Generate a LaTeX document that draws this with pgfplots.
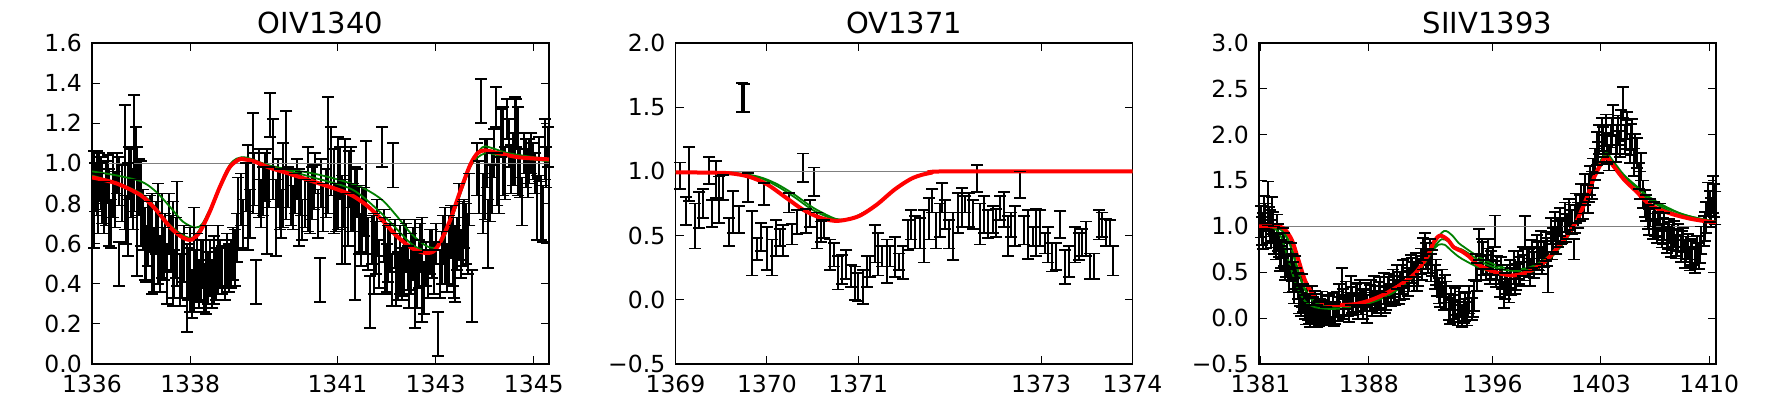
\documentclass[border=0pt]{standalone}
\usepackage{fontspec}
\setmainfont{DejaVu Sans}
\usepackage{pgfplots}
\pgfplotsset{compat=1.18}
\usepackage{pgfplotstable}

\pgfplotstableread{
x y e
1336.04 0.82 0.24
1336.10 0.90 0.16
1336.15 0.93 0.12
1336.21 0.85 0.15
1336.29 0.85 0.16
1336.34 0.78 0.19
1336.42 0.89 0.16
1336.54 0.50 0.11
1336.56 0.91 0.12
1336.67 0.98 0.31
1336.73 0.77 0.23
1336.80 0.90 0.17
1336.86 1.05 0.29
1336.89 1.05 0.13
1336.92 0.76 0.32
1336.99 0.80 0.21
1337.07 0.60 0.18
1337.15 0.65 0.16
1337.22 0.60 0.25
1337.34 0.65 0.25
1337.42 0.64 0.21
1337.49 0.61 0.14
1337.57 0.70 0.15
1337.64 0.55 0.26
1337.74 0.65 0.26
1337.84 0.49 0.16
1337.93 0.38 0.22
1337.99 0.47 0.21
1338.07 0.52 0.26
1338.14 0.48 0.17
1338.22 0.47 0.15
1338.32 0.47 0.22
1338.41 0.48 0.14
1338.49 0.47 0.17
1338.56 0.52 0.17
1338.65 0.47 0.12
1338.75 0.52 0.13
1338.83 0.50 0.12
1338.91 0.53 0.14
1338.98 0.75 0.18
1339.08 0.70 0.12
1339.18 0.83 0.26
1339.27 1.00 0.25
1339.34 0.41 0.11
1339.40 0.90 0.17
1339.48 0.86 0.12
1339.56 0.81 0.26
1339.63 1.24 0.11
1339.69 1.02 0.20
1339.75 0.73 0.19
1339.83 0.82 0.15
1339.90 0.89 0.21
1339.96 0.99 0.27
1340.06 0.83 0.14
1340.13 0.85 0.10
1340.21 0.78 0.19
1340.28 0.72 0.10
1340.40 0.87 0.21
1340.48 0.85 0.13
1340.55 0.95 0.10
1340.64 0.42 0.11
1340.71 0.78 0.12
1340.80 1.04 0.29
1340.87 1.01 0.17
1340.93 0.86 0.21
1341.01 0.90 0.23
1341.09 0.72 0.22
1341.16 0.81 0.31
1341.28 0.87 0.21
1341.36 0.65 0.33
1341.43 0.72 0.17
1341.51 0.72 0.16
1341.59 0.83 0.28
1341.66 0.31 0.13
1341.74 0.55 0.20
1341.81 0.68 0.14
1341.91 1.08 0.10
1341.97 0.54 0.19
1342.04 0.55 0.14
1342.14 0.99 0.11
1342.20 0.47 0.18
1342.27 0.52 0.17
1342.35 0.53 0.19
1342.43 0.48 0.11
1342.50 0.50 0.15
1342.58 0.45 0.27
1342.66 0.50 0.12
1342.73 0.47 0.26
1342.81 0.50 0.11
1342.89 0.56 0.11
1342.92 0.55 0.12
1343.04 0.15 0.11
1343.12 0.53 0.13
1343.19 0.59 0.19
1343.27 0.57 0.17
1343.35 0.59 0.20
1343.40 0.50 0.19
1343.48 0.71 0.19
1343.55 0.65 0.16
1343.61 0.65 0.15
1343.69 0.82 0.13
1343.75 0.34 0.13
1343.84 0.97 0.13
1343.92 1.31 0.11
1344.01 0.92 0.20
1344.07 0.65 0.17
1344.15 0.90 0.15
1344.22 1.28 0.10
1344.30 0.89 0.14
1344.38 1.06 0.22
1344.45 1.22 0.10
1344.53 0.97 0.12
1344.61 1.11 0.22
1344.68 1.06 0.22
1344.76 0.81 0.12
1344.84 1.00 0.12
1344.91 1.01 0.11
1344.99 1.01 0.09
1345.07 0.78 0.16
1345.14 0.78 0.16
1345.22 1.07 0.15
1345.28 1.08 0.10
1336.07 0.88 0.12
1336.13 0.80 0.15
1336.18 0.90 0.13
1336.25 0.78 0.13
1336.32 0.92 0.12
1336.38 0.70 0.12
1336.46 0.82 0.14
1336.50 0.95 0.10
1336.62 0.85 0.14
1336.70 0.72 0.12
1336.76 0.95 0.13
1336.83 0.82 0.15
1336.96 0.88 0.14
1337.03 0.72 0.15
1337.11 0.55 0.14
1337.18 0.70 0.14
1337.26 0.52 0.16
1337.30 0.68 0.13
1337.38 0.50 0.14
1337.46 0.55 0.13
1337.53 0.45 0.15
1337.60 0.60 0.14
1337.68 0.45 0.12
1337.71 0.58 0.15
1337.79 0.42 0.13
1337.88 0.55 0.14
1337.96 0.45 0.13
1338.03 0.35 0.12
1338.10 0.44 0.13
1338.18 0.40 0.12
1338.26 0.50 0.12
1338.28 0.38 0.12
1338.36 0.43 0.13
1338.45 0.40 0.12
1338.53 0.45 0.13
1338.60 0.50 0.12
1338.70 0.45 0.13
1338.79 0.48 0.12
1338.87 0.55 0.13
1338.95 0.63 0.12
1339.03 0.82 0.13
1339.13 0.88 0.12
1339.22 0.75 0.12
1339.30 0.92 0.13
1339.44 0.80 0.12
1339.52 0.93 0.12
1339.60 0.88 0.10
1339.79 0.90 0.12
1339.86 0.75 0.12
1340.00 0.88 0.10
1340.10 0.78 0.11
1340.17 0.92 0.10
1340.25 0.85 0.11
1340.33 0.80 0.12
1340.44 0.78 0.13
1340.52 0.88 0.11
1340.60 0.75 0.12
1340.67 0.90 0.12
1340.76 0.85 0.12
1340.97 0.78 0.12
1341.05 0.95 0.13
1341.12 0.80 0.12
1341.21 0.72 0.13
1341.24 0.92 0.14
1341.32 0.78 0.12
1341.40 0.85 0.12
1341.47 0.62 0.13
1341.55 0.76 0.12
1341.62 0.60 0.13
1341.70 0.62 0.12
1341.78 0.58 0.13
1341.85 0.50 0.12
1341.94 0.64 0.13
1342.00 0.48 0.12
1342.08 0.58 0.12
1342.11 0.42 0.13
1342.17 0.60 0.12
1342.24 0.44 0.12
1342.31 0.45 0.13
1342.39 0.58 0.12
1342.46 0.40 0.12
1342.54 0.55 0.13
1342.62 0.42 0.14
1342.69 0.58 0.12
1342.77 0.38 0.13
1342.85 0.45 0.12
1342.96 0.48 0.13
1343.00 0.60 0.10
1343.08 0.45 0.12
1343.15 0.62 0.12
1343.23 0.48 0.12
1343.31 0.66 0.13
1343.38 0.45 0.12
1343.44 0.60 0.13
1343.52 0.55 0.12
1343.58 0.70 0.12
1343.65 0.60 0.15
1343.88 0.88 0.13
1343.96 0.80 0.15
1344.04 1.00 0.12
1344.11 0.85 0.14
1344.19 1.05 0.12
1344.26 0.92 0.13
1344.34 1.15 0.12
1344.41 0.95 0.13
1344.49 1.10 0.12
1344.57 1.02 0.13
1344.64 1.20 0.12
1344.72 0.95 0.12
1344.80 1.05 0.10
1344.88 0.95 0.12
1344.95 1.05 0.10
1345.03 0.95 0.10
1345.11 1.02 0.11
1345.18 0.75 0.14
1345.25 0.98 0.10
}\dataA

\pgfplotstableread{
x y e
1369.05 0.965 0.105
1369.11 0.69 0.11
1369.15 0.98 0.21
1369.21 0.575 0.175
1369.26 0.70 0.14
1369.30 0.75 0.11
1369.37 1.005 0.105
1369.40 0.675 0.105
1369.44 0.935 0.145
1369.48 0.78 0.18
1369.52 0.875 0.095
1369.58 0.53 0.11
1369.63 0.685 0.165
1369.69 0.625 0.105
1369.725 1.575 0.115
1369.745 1.57 0.11
1369.79 0.875 0.115
1369.84 0.44 0.25
1369.89 0.395 0.085
1369.93 0.49 0.11
1369.97 0.825 0.085
1370.00 0.40 0.17
1370.06 0.33 0.14
1370.10 0.48 0.14
1370.14 0.485 0.065
1370.18 0.46 0.12
1370.24 0.755 0.075
1370.28 0.51 0.08
1370.33 0.605 0.095
1370.39 1.03 0.11
1370.43 0.615 0.095
1370.47 0.675 0.105
1370.52 0.92 0.11
1370.55 0.54 0.14
1370.59 0.53 0.08
1370.63 0.55 0.07
1370.69 0.35 0.12
1370.73 0.35 0.09
1370.78 0.21 0.13
1370.82 0.235 0.115
1370.87 0.275 0.115
1370.92 0.185 0.085
1370.96 0.13 0.13
1371.00 0.10 0.11
1371.05 0.10 0.13
1371.09 0.22 0.12
1371.13 0.26 0.08
1371.18 0.435 0.145
1371.22 0.355 0.165
1371.26 0.34 0.08
1371.31 0.30 0.17
1371.35 0.34 0.08
1371.40 0.335 0.155
1371.44 0.295 0.065
1371.49 0.29 0.13
1371.54 0.505 0.115
1371.58 0.585 0.115
1371.62 0.525 0.125
1371.68 0.52 0.12
1371.72 0.495 0.205
1371.77 0.63 0.16
1371.81 0.77 0.09
1371.85 0.54 0.14
1371.89 0.62 0.13
1371.92 0.795 0.115
1371.95 0.665 0.115
1371.99 0.51 0.11
1372.04 0.495 0.185
1372.09 0.675 0.155
1372.13 0.72 0.15
1372.17 0.745 0.065
1372.21 0.70 0.13
1372.26 0.665 0.115
1372.30 0.945 0.105
1372.33 0.59 0.16
1372.38 0.665 0.145
1372.42 0.59 0.11
1372.47 0.625 0.105
1372.51 0.60 0.11
1372.55 0.715 0.095
1372.59 0.705 0.135
1372.64 0.495 0.155
1372.67 0.585 0.095
1372.71 0.575 0.155
1372.77 0.895 0.105
1372.81 0.54 0.11
1372.86 0.51 0.19
1372.91 0.495 0.075
1372.94 0.525 0.185
1372.99 0.56 0.14
1373.04 0.44 0.08
1373.08 0.43 0.14
1373.12 0.33 0.11
1373.16 0.335 0.105
1373.21 0.585 0.105
1373.26 0.255 0.135
1373.31 0.30 0.12
1373.37 0.43 0.14
1373.41 0.415 0.105
1373.45 0.445 0.105
1373.49 0.475 0.135
1373.53 0.26 0.10
1373.58 0.26 0.10
1373.63 0.585 0.115
1373.67 0.585 0.095
1373.71 0.525 0.105
1373.75 0.52 0.10
1373.79 0.305 0.115
}\dataB

\pgfplotstableread{
x y e
1381.00 1.05 0.17
1381.15 0.95 0.20
1381.30 1.10 0.15
1381.45 1.25 0.24
1381.60 1.00 0.18
1381.75 1.12 0.20
1381.90 0.85 0.15
1382.05 0.95 0.18
1382.20 0.80 0.13
1382.35 0.70 0.15
1382.50 0.75 0.18
1382.65 0.60 0.15
1382.80 0.55 0.14
1382.95 0.62 0.20
1383.10 0.45 0.16
1383.25 0.50 0.18
1383.40 0.35 0.14
1383.55 0.25 0.12
1383.70 0.30 0.18
1383.85 0.12 0.13
1384.00 0.20 0.15
1384.15 0.08 0.14
1384.30 0.15 0.20
1384.45 0.05 0.12
1384.60 0.10 0.16
1384.75 0.05 0.14
1384.90 0.12 0.17
1385.05 0.07 0.13
1385.20 0.02 0.10
1385.35 0.10 0.14
1385.50 0.04 0.11
1385.65 0.12 0.15
1385.80 0.06 0.12
1385.95 0.15 0.14
1386.10 0.20 0.17
1386.25 0.38 0.17
1386.40 0.12 0.13
1386.55 0.25 0.15
1386.70 0.10 0.14
1386.85 0.30 0.16
1387.00 0.15 0.12
1387.15 0.22 0.15
1387.30 0.12 0.13
1387.45 0.28 0.14
1387.60 0.15 0.16
1387.75 0.20 0.12
1387.90 0.10 0.15
1388.05 0.22 0.14
1388.20 0.15 0.13
1388.35 0.30 0.16
1388.50 0.18 0.12
1388.65 0.25 0.14
1388.80 0.15 0.13
1388.95 0.32 0.17
1389.10 0.22 0.13
1389.25 0.30 0.15
1389.40 0.25 0.12
1389.55 0.38 0.15
1389.70 0.28 0.14
1389.85 0.45 0.13
1390.00 0.35 0.15
1390.15 0.42 0.16
1390.30 0.33 0.12
1390.45 0.50 0.15
1390.60 0.42 0.13
1390.75 0.55 0.14
1390.90 0.45 0.16
1391.05 0.58 0.13
1391.20 0.50 0.15
1391.35 0.62 0.14
1391.50 0.70 0.17
1391.65 0.78 0.15
1391.80 0.62 0.13
1391.95 0.72 0.14
1392.10 0.60 0.14
1392.25 0.45 0.13
1392.40 0.38 0.14
1392.55 0.30 0.14
1392.70 0.38 0.15
1392.85 0.22 0.13
1393.00 0.25 0.15
1393.15 0.12 0.14
1393.30 0.22 0.13
1393.45 0.08 0.12
1393.60 0.18 0.15
1393.75 0.05 0.13
1393.90 0.15 0.14
1394.05 0.02 0.12
1394.20 0.12 0.15
1394.35 0.05 0.13
1394.50 0.20 0.15
1394.65 0.10 0.12
1394.80 0.25 0.17
1394.95 0.55 0.15
1395.10 0.80 0.17
1395.25 0.55 0.13
1395.40 0.65 0.18
1395.55 0.55 0.14
1395.70 0.70 0.16
1395.85 0.50 0.13
1396.00 0.62 0.15
1396.15 0.95 0.17
1396.30 0.55 0.13
1396.45 0.38 0.15
1396.60 0.45 0.13
1396.75 0.25 0.14
1396.90 0.42 0.16
1397.05 0.30 0.13
1397.20 0.40 0.15
1397.35 0.55 0.18
1397.50 0.45 0.14
1397.65 0.58 0.15
1397.80 0.48 0.13
1397.95 0.62 0.16
1398.10 0.93 0.18
1398.25 0.65 0.13
1398.40 0.50 0.15
1398.55 0.70 0.15
1398.70 0.58 0.14
1398.85 0.75 0.16
1399.00 0.65 0.13
1399.15 0.80 0.15
1399.30 0.70 0.14
1399.45 0.78 0.16
1399.60 0.50 0.22
1399.75 0.95 0.14
1399.90 0.85 0.13
1400.05 1.00 0.16
1400.20 0.92 0.14
1400.35 1.05 0.15
1400.50 0.95 0.13
1400.65 1.10 0.16
1400.80 1.00 0.14
1400.95 1.15 0.15
1401.10 1.05 0.13
1401.25 0.75 0.11
1401.40 1.20 0.16
1401.55 1.12 0.14
1401.70 1.30 0.16
1401.85 1.22 0.14
1402.00 1.40 0.17
1402.15 1.30 0.15
1402.30 1.50 0.16
1402.45 1.45 0.15
1402.60 1.68 0.17
1402.75 1.85 0.18
1402.90 1.95 0.16
1403.05 2.00 0.18
1403.20 1.85 0.15
1403.35 2.05 0.17
1403.50 1.75 0.14
1403.65 1.95 0.16
1403.80 2.15 0.17
1403.95 1.85 0.15
1404.10 2.05 0.16
1404.25 1.90 0.14
1404.40 2.35 0.17
1404.55 1.95 0.16
1404.70 2.10 0.15
1404.85 1.85 0.16
1405.00 2.00 0.17
1405.15 1.70 0.15
1405.30 1.80 0.16
1405.45 1.55 0.14
1405.60 1.65 0.15
1405.75 1.35 0.15
1405.90 1.20 0.14
1406.05 1.10 0.13
1406.20 1.15 0.15
1406.35 1.00 0.14
1406.50 1.05 0.15
1406.65 0.95 0.13
1406.80 1.10 0.15
1406.95 0.90 0.13
1407.10 1.00 0.15
1407.25 0.85 0.14
1407.40 0.95 0.13
1407.55 0.82 0.15
1407.70 0.92 0.14
1407.85 0.78 0.13
1408.00 0.88 0.15
1408.15 0.75 0.14
1408.30 0.85 0.13
1408.45 0.70 0.15
1408.60 0.78 0.14
1408.75 0.65 0.13
1408.90 0.72 0.14
1409.05 0.62 0.13
1409.20 0.75 0.15
1409.35 0.68 0.14
1409.50 0.85 0.15
1409.65 0.95 0.16
1409.80 1.10 0.17
1409.95 1.30 0.18
1410.10 1.15 0.16
1410.25 1.35 0.20
1410.40 1.20 0.18
1381.07 0.95 0.15
1381.22 1.15 0.18
1381.37 0.90 0.14
1381.52 1.05 0.16
1381.67 0.92 0.15
1381.82 1.00 0.16
1381.97 0.78 0.14
1382.12 0.88 0.15
1382.27 0.65 0.14
1382.42 0.82 0.16
1382.57 0.55 0.13
1382.72 0.68 0.15
1382.87 0.42 0.14
1383.02 0.55 0.15
1383.17 0.30 0.14
1383.32 0.42 0.13
1383.47 0.20 0.15
1383.62 0.15 0.13
1383.77 0.22 0.15
1383.92 0.05 0.12
1384.07 0.12 0.14
1384.22 0.02 0.12
1384.37 0.10 0.13
1384.52 0.15 0.15
1384.67 0.02 0.12
1384.82 0.08 0.13
1384.97 0.15 0.14
1385.12 0.05 0.13
1385.42 0.12 0.13
1385.72 0.03 0.12
1386.02 0.10 0.13
1386.32 0.18 0.14
1386.62 0.15 0.13
1386.92 0.20 0.14
1387.22 0.25 0.13
1387.52 0.18 0.14
1387.82 0.25 0.13
1388.12 0.28 0.14
1388.42 0.22 0.13
1388.72 0.30 0.15
1389.02 0.20 0.14
1389.32 0.35 0.13
1389.62 0.32 0.14
1389.92 0.28 0.13
1390.22 0.48 0.15
1390.52 0.38 0.14
1390.82 0.52 0.14
1391.12 0.45 0.15
1391.42 0.55 0.13
1391.72 0.68 0.14
1392.02 0.55 0.15
1392.32 0.50 0.14
1392.62 0.25 0.13
1392.92 0.32 0.15
1393.22 0.08 0.14
1393.52 0.12 0.13
1393.82 0.20 0.15
1394.12 0.08 0.13
1394.42 0.15 0.14
1394.72 0.15 0.14
1395.02 0.45 0.15
1395.32 0.70 0.16
1395.62 0.62 0.14
1395.92 0.58 0.15
1396.22 0.48 0.14
1396.52 0.52 0.15
1396.82 0.35 0.14
1397.12 0.48 0.15
1397.42 0.40 0.14
1397.72 0.52 0.15
1398.02 0.55 0.14
1398.32 0.60 0.15
1398.62 0.62 0.14
1398.92 0.68 0.15
1399.22 0.62 0.14
1399.52 0.72 0.15
1399.82 0.78 0.14
1400.12 0.85 0.15
1400.42 0.95 0.14
1400.72 0.98 0.15
1401.02 1.10 0.14
1401.32 1.08 0.15
1401.62 1.20 0.14
1401.92 1.30 0.16
1402.22 1.42 0.15
1402.52 1.58 0.16
1402.82 1.75 0.17
1403.12 1.92 0.16
1403.42 1.85 0.17
1403.72 2.02 0.16
1404.02 1.95 0.16
1404.32 2.10 0.17
1404.62 2.00 0.16
1404.92 1.95 0.17
1405.22 1.85 0.16
1405.52 1.45 0.15
1405.82 1.25 0.15
1406.12 1.05 0.14
1406.42 1.12 0.15
1406.72 1.02 0.14
1407.02 0.95 0.14
1407.32 0.90 0.15
1407.62 0.88 0.14
1407.92 0.82 0.14
1408.22 0.80 0.15
1408.52 0.75 0.14
1408.82 0.70 0.14
1409.12 0.68 0.14
1409.42 0.75 0.15
1409.72 1.00 0.16
1410.02 1.22 0.17
1410.32 1.28 0.18
}\dataC

\pgfplotsset{
  panel/.style={
    scale only axis, width=457pt, height=321pt, anchor=south west,
    tick align=inside, major tick length=8pt,
    axis line style={line width=1.7pt},
    every tick/.style={black, line width=0.9pt},
    ticklabel style={font=\fontsize{23.5}{28}\selectfont},
    title style={font=\fontsize{29}{34}\selectfont},
    xticklabel style={inner sep=0pt, yshift=-10.5pt},
    yticklabel style={inner sep=0pt, xshift=-10pt},
  },
  errs/.style={draw=none, mark=none,
    error bars/.cd, y dir=both, y explicit, error mark=none,
    error bar style={draw=black, line width=2pt}},
  caps/.style={only marks, mark=-, mark size=6pt,
    mark options={draw=black, line width=1.8pt}},
  grn/.style={color={rgb,255:red,0;green,128;blue,0}, line width=1.8pt, smooth, tension=0.5, mark=none},
  rd/.style={color={rgb,255:red,255;green,0;blue,0}, line width=4pt, smooth, tension=0.5, mark=none},
  gry/.style={color={rgb,255:red,128;green,128;blue,128}, line width=1.4pt, mark=none},
}

\begin{document}
\begin{tikzpicture}
\useasboundingbox (0,0) rectangle (1767pt,405pt);

% ---------- Panel 1
\begin{axis}[panel, at={(92pt,41pt)}, title={OIV1340},
  xmin=1336, xmax=1345.31, ymin=0, ymax=1.6,
  xtick={1336,1338,1341,1343,1345}, xticklabels={1336,1338,1341,1343,1345},
  ytick={0,0.2,0.4,0.6,0.8,1.0,1.2,1.4,1.6},
  yticklabels={0.0,0.2,0.4,0.6,0.8,1.0,1.2,1.4,1.6}]
\addplot[errs] table[x=x, y=y, y error=e] {\dataA};
\addplot[caps] table[x=x, y expr=\thisrow{y}+\thisrow{e}] {\dataA};
\addplot[caps] table[x=x, y expr=\thisrow{y}-\thisrow{e}] {\dataA};
\addplot[gry] coordinates {(1336,1) (1345.31,1)};
\addplot[grn] coordinates {(1336.0,0.96) (1336.5,0.94) (1337.0,0.91) (1337.3,0.86) (1337.6,0.78) (1337.85,0.71) (1338.1,0.68) (1338.25,0.70) (1338.45,0.79) (1338.65,0.90) (1338.85,0.99) (1339.05,1.03) (1339.2,1.02) (1339.6,0.99) (1340.0,0.97) (1340.5,0.95) (1341.0,0.92) (1341.5,0.88) (1341.9,0.82) (1342.2,0.74) (1342.5,0.65) (1342.8,0.59) (1343.0,0.58) (1343.15,0.62) (1343.35,0.74) (1343.55,0.88) (1343.75,1.01) (1343.95,1.08) (1344.1,1.08) (1344.5,1.05) (1345.31,1.02)};
\addplot[grn] coordinates {(1336.0,0.94) (1337.0,0.85) (1337.6,0.69) (1338.05,0.63) (1338.4,0.77) (1338.8,0.99) (1339.1,1.03) (1339.6,0.99) (1340.5,0.93) (1341.3,0.87) (1341.9,0.75) (1342.5,0.60) (1342.8,0.565) (1343.0,0.57) (1343.3,0.71) (1343.7,0.98) (1344.0,1.05) (1344.3,1.04) (1345.31,1.01)};
\addplot[rd] coordinates {(1336.0,0.93) (1336.5,0.90) (1337.0,0.84) (1337.3,0.77) (1337.6,0.68) (1337.85,0.63) (1338.03,0.62) (1338.2,0.66) (1338.4,0.76) (1338.6,0.88) (1338.8,0.98) (1339.0,1.02) (1339.1,1.02) (1339.3,1.01) (1339.6,0.98) (1340.0,0.95) (1340.5,0.91) (1341.0,0.87) (1341.3,0.84) (1341.6,0.79) (1341.9,0.72) (1342.2,0.64) (1342.5,0.58) (1342.75,0.555) (1342.95,0.56) (1343.1,0.61) (1343.3,0.72) (1343.5,0.86) (1343.7,0.99) (1343.85,1.05) (1344.0,1.065) (1344.3,1.05) (1344.7,1.03) (1345.31,1.02)};
\end{axis}

% ---------- Panel 2
\begin{axis}[panel, at={(675.5pt,41pt)}, title={OV1371},
  xmin=1369, xmax=1374, ymin=-0.5, ymax=2.0,
  xtick={1369,1370,1371,1373,1374}, xticklabels={1369,1370,1371,1373,1374},
  ytick={-0.5,0,0.5,1.0,1.5,2.0},
  yticklabels={−0.5,0.0,0.5,1.0,1.5,2.0}]
\addplot[errs] table[x=x, y=y, y error=e] {\dataB};
\addplot[caps] table[x=x, y expr=\thisrow{y}+\thisrow{e}] {\dataB};
\addplot[caps] table[x=x, y expr=\thisrow{y}-\thisrow{e}] {\dataB};
\addplot[gry] coordinates {(1369,1) (1374,1)};
\addplot[grn] coordinates {(1369.0,0.995) (1369.6,0.99) (1369.9,0.96) (1370.1,0.905) (1370.3,0.82) (1370.5,0.72) (1370.7,0.645) (1370.8,0.625) (1370.95,0.64) (1371.2,0.74) (1371.4,0.86) (1371.6,0.95) (1371.8,0.99) (1372.0,1.0) (1374,1.0)};
\addplot[grn] coordinates {(1369.0,0.995) (1369.6,0.985) (1369.9,0.955) (1370.1,0.89) (1370.3,0.80) (1370.5,0.70) (1370.7,0.635) (1370.8,0.62) (1370.95,0.64) (1371.2,0.74) (1371.4,0.86) (1371.6,0.95) (1371.8,0.99) (1372.0,1.0) (1374,1.0)};
\addplot[rd] coordinates {(1369.0,0.993) (1369.4,0.99) (1369.6,0.985) (1369.8,0.96) (1370.0,0.90) (1370.2,0.80) (1370.4,0.70) (1370.6,0.635) (1370.78,0.615) (1371.0,0.65) (1371.2,0.74) (1371.4,0.86) (1371.6,0.95) (1371.8,0.99) (1372.0,1.0) (1374,1.0)};
\end{axis}

% ---------- Panel 3
\begin{axis}[panel, at={(1259pt,41pt)}, title={SIIV1393},
  xmin=1380.9, xmax=1410.44, ymin=-0.5, ymax=3.0,
  xtick={1381,1388,1396,1403,1410}, xticklabels={1381,1388,1396,1403,1410},
  ytick={-0.5,0,0.5,1.0,1.5,2.0,2.5,3.0},
  yticklabels={−0.5,0.0,0.5,1.0,1.5,2.0,2.5,3.0}]
\addplot[errs] table[x=x, y=y, y error=e] {\dataC};
\addplot[caps] table[x=x, y expr=\thisrow{y}+\thisrow{e}] {\dataC};
\addplot[caps] table[x=x, y expr=\thisrow{y}-\thisrow{e}] {\dataC};
\addplot[gry] coordinates {(1380.9,1) (1410.44,1)};
\addplot[grn] coordinates {(1380.9,1.0) (1381.8,1.0) (1382.4,0.95) (1382.9,0.80) (1383.3,0.58) (1383.7,0.37) (1384.2,0.22) (1384.8,0.15) (1385.5,0.13) (1386.5,0.13) (1387.5,0.16) (1388.5,0.21) (1389.5,0.29) (1390.5,0.41) (1391.5,0.59) (1392.2,0.80) (1392.7,0.93) (1393.0,0.95) (1393.4,0.90) (1393.8,0.82) (1394.2,0.77) (1394.8,0.70) (1395.5,0.63) (1396.5,0.56) (1397.5,0.53) (1398.5,0.56) (1399.5,0.66) (1400.5,0.84) (1401.5,1.08) (1402.2,1.35) (1402.7,1.60) (1403.3,1.80) (1403.8,1.71) (1404.5,1.56) (1405.5,1.41) (1406.2,1.30) (1407.0,1.22) (1408.0,1.15) (1409.0,1.10) (1410.44,1.05)};
\addplot[grn] coordinates {(1380.9,1.0) (1381.6,1.0) (1382.2,0.93) (1382.6,0.75) (1383.0,0.52) (1383.4,0.32) (1383.9,0.18) (1384.5,0.12) (1385.5,0.10) (1386.5,0.11) (1387.5,0.14) (1388.5,0.19) (1389.5,0.27) (1390.5,0.39) (1391.5,0.57) (1392.1,0.73) (1392.5,0.80) (1392.9,0.80) (1393.3,0.74) (1393.8,0.67) (1394.3,0.62) (1395.0,0.56) (1396.0,0.50) (1397.0,0.46) (1398.0,0.47) (1399.0,0.55) (1400.0,0.70) (1401.0,0.92) (1402.0,1.25) (1402.6,1.55) (1403.2,1.77) (1403.8,1.67) (1404.5,1.52) (1405.5,1.37) (1406.5,1.25) (1407.5,1.16) (1408.5,1.10) (1410.44,1.04)};
\addplot[grn] coordinates {(1380.9,1.0) (1382.0,1.0) (1382.6,0.92) (1383.1,0.72) (1383.5,0.48) (1384.0,0.28) (1384.6,0.17) (1385.5,0.13) (1386.5,0.135) (1387.5,0.16) (1388.5,0.21) (1389.5,0.29) (1390.5,0.41) (1391.5,0.59) (1392.2,0.77) (1392.7,0.86) (1393.1,0.84) (1393.5,0.78) (1394.0,0.75) (1394.5,0.70) (1395.2,0.62) (1396.0,0.56) (1397.0,0.52) (1398.0,0.52) (1399.0,0.58) (1400.0,0.72) (1401.0,0.94) (1402.0,1.26) (1402.6,1.55) (1403.2,1.76) (1403.8,1.68) (1404.5,1.54) (1405.5,1.40) (1406.5,1.28) (1407.5,1.19) (1408.5,1.12) (1410.44,1.05)};
\addplot[rd] coordinates {(1380.9,1.0) (1382.0,1.0) (1382.5,0.98) (1383.0,0.86) (1383.4,0.66) (1383.9,0.40) (1384.5,0.23) (1385.0,0.17) (1385.8,0.145) (1387.0,0.15) (1388.0,0.19) (1389.0,0.26) (1390.0,0.36) (1391.0,0.49) (1391.8,0.68) (1392.2,0.83) (1392.6,0.90) (1393.1,0.855) (1393.5,0.77) (1394.0,0.73) (1394.5,0.67) (1395.0,0.59) (1396.0,0.51) (1397.0,0.47) (1397.6,0.47) (1398.5,0.52) (1399.4,0.62) (1400.4,0.81) (1401.4,1.05) (1402.1,1.32) (1402.6,1.55) (1403.3,1.75) (1403.8,1.66) (1404.5,1.51) (1405.3,1.38) (1406.0,1.26) (1406.7,1.19) (1407.7,1.13) (1408.9,1.08) (1410.44,1.04)};
\end{axis}
\end{tikzpicture}
\end{document}
